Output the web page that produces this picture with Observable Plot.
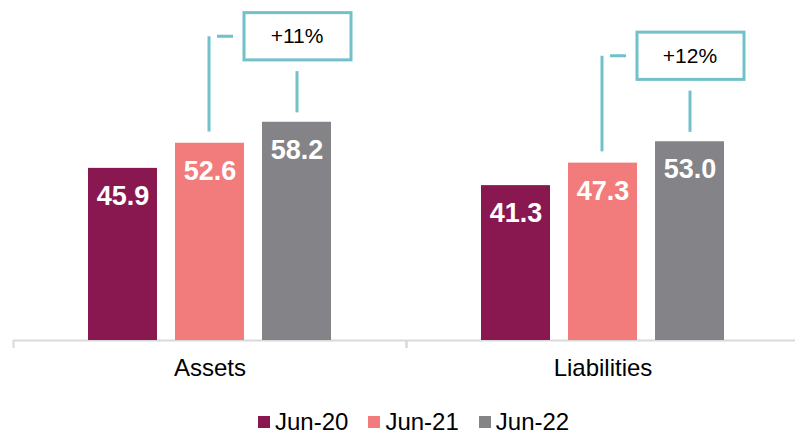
<!DOCTYPE html>
<html>
<head>
<meta charset="utf-8">
<script src="https://cdn.jsdelivr.net/npm/d3@7"></script>
<script src="https://cdn.jsdelivr.net/npm/@observablehq/plot@0.6"></script>
<style>
  html, body { margin: 0; padding: 0; background: white; overflow: hidden; }
  #wrap { position: relative; width: 795px; height: 436px; }
  #legend { position: absolute; left: 258px; top: 409px; height: 26px; display: flex; align-items: center;
    font-family: "Liberation Sans", Arial, sans-serif; font-size: 24px; color: #000; }
  .item { display: flex; align-items: center; margin-right: 20px; }
  .sw { width: 12px; height: 12px; margin-right: 5px; }
</style>
</head>
<body>
<div id="wrap"><div id="chart"></div><div id="legend"></div></div>
<script>
const groups = ["Assets", "Liabilities"];
const periods = ["Jun-20", "Jun-21", "Jun-22"];
const jun20 = [45.9, 41.3];
const jun21 = [52.6, 47.3];
const jun22 = [58.2, 53.0];
const growthLabels = ["+11%", "+12%"];
const colors = ["#8A1850", "#F27C7C", "#848488"];
const teal = "#72C0C9";
const axisGray = "#D9D9D9";

const series = [jun20, jun21, jun22];
const data = groups.flatMap((g, i) => periods.map((p, j) => ({group: g, period: p, value: series[j][i]})));
const ann = groups.map((g, i) => ({group: g, label: growthLabels[i], v21: jun21[i], v22: jun22[i], c: jun22[i] + 22.8}));

const chart = Plot.plot({
  width: 795, height: 392,
  marginLeft: 12, marginRight: -4, marginTop: 2.5, marginBottom: 52,
  style: {fontFamily: "Liberation Sans, Arial, sans-serif", fontSize: "24px", color: "#000", background: "white"},
  fx: {domain: groups, padding: 0, label: null, tickSize: 0, tickPadding: 18},
  x: {domain: periods, paddingInner: 0.21, paddingOuter: 0.86, axis: null},
  y: {domain: [0, 90], axis: null},
  color: {domain: periods, range: colors},
  marks: [
    Plot.ruleY([0], {stroke: axisGray, strokeWidth: 2}),
    Plot.ruleX(["Jun-20"], {y1: 0, y2: -2.1, dx: -109.5, stroke: axisGray, strokeWidth: 2}),
    Plot.ruleX(["Jun-22"], {y1: 0, y2: -2.1, dx: 109.5, stroke: axisGray, strokeWidth: 2}),
    Plot.barY(data, {fx: "group", x: "period", y: "value", fill: "period"}),
    Plot.text(data, {fx: "group", x: "period", y: "value", text: d => d.value.toFixed(1),
      fill: "white", fontWeight: "bold", fontSize: 27, dy: 28}),
    Plot.ruleX(ann, {fx: "group", x: () => "Jun-21", y1: d => d.v21 + 3, y2: "c", stroke: teal, strokeWidth: 3, dx: -1}),
    Plot.barY(ann, {fx: "group", x: () => "Jun-21", y1: d => d.c - 0.4, y2: d => d.c + 0.4, fill: teal, insetLeft: 42, insetRight: 11}),
    Plot.ruleX(ann, {fx: "group", x: () => "Jun-22", y1: d => d.v22 + 2.5, y2: d => d.c - 9.3, stroke: teal, strokeWidth: 3}),
    Plot.barY(ann, {fx: "group", x: () => "Jun-22", y1: d => d.c - 6.3, y2: d => d.c + 6.3,
      fill: "white", stroke: teal, strokeWidth: 3, insetLeft: -18, insetRight: -20}),
    Plot.text(ann, {fx: "group", x: () => "Jun-22", y: "c", text: "label", fontSize: 21, fill: "#000"})
  ]
});
document.getElementById("chart").appendChild(chart);

const legend = document.getElementById("legend");
periods.forEach((p, i) => {
  const item = document.createElement("div");
  item.className = "item";
  const sw = document.createElement("div");
  sw.className = "sw";
  sw.style.background = colors[i];
  const t = document.createElement("span");
  t.textContent = p;
  item.appendChild(sw);
  item.appendChild(t);
  legend.appendChild(item);
});
</script>
</body>
</html>
